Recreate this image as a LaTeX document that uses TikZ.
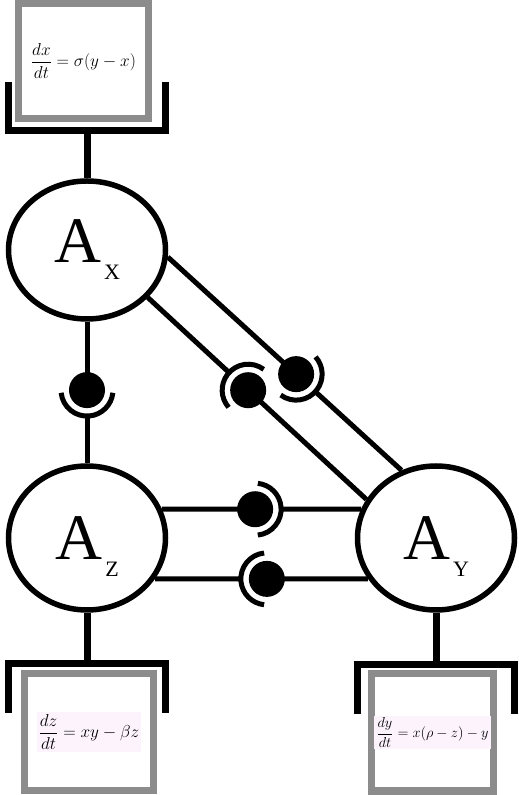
\documentclass[tikz,border=0pt]{standalone}
\usepackage{fontspec}
\newfontfamily\cellfont{Liberation Serif}
\usetikzlibrary{calc,shapes.geometric}
\definecolor{framegray}{RGB}{140,140,140}
\definecolor{eqbg}{RGB}{252,243,252}
\newcommand{\acell}[1]{A\kern3pt\raisebox{-17pt}{\fontsize{22}{22}\selectfont #1}}
\setlength{\fboxsep}{2pt}

\begin{document}
\begin{tikzpicture}[x=1pt, y=1pt,
  cell/.style={ellipse, draw, line width=5.5pt, fill=white, inner sep=0pt,
               minimum width=157pt, minimum height=144pt,
               text height=61pt, text depth=17pt,
               font=\cellfont\fontsize{65}{65}\selectfont},
  eqbox/.style={rectangle, draw=framegray, line width=7pt, fill=white,
                inner sep=0pt, minimum height=117pt},
  link/.style={line width=5pt},
  cup/.style={line width=7pt}
]
\useasboundingbox (0,0) rectangle (519,795);

%% ── Cells ──────────────────────────────────────────────────────
\node[cell, minimum height=138pt, text height=43pt] (ax) at (87,545) {\acell{X}};
\node[cell] (az) at (87,257) {\acell{Z}};
\node[cell] (ay) at (436,257) {\acell{Y}};

%% ── Equations ──────────────────────────────────────────────────
\node[eqbox, minimum width=130pt, minimum height=115pt,
      font=\fontsize{17.5}{20}\selectfont] (eqx) at (83.5,734)
  {$\displaystyle\frac{dx}{dt}=\sigma(y-x)$};
\node[eqbox, minimum width=129pt, font=\fontsize{18}{21}\selectfont]
  (eqz) at (89,63) {\colorbox{eqbg}{$\displaystyle\frac{dz}{dt}=xy-\beta z$}};
\node[eqbox, minimum width=122pt, font=\fontsize{14.4}{17}\selectfont]
  (eqy) at (432.5,62.5) {\colorbox{eqbg}{$\displaystyle\frac{dy}{dt}=x(\rho-z)-y$}};

%% ── Cups ───────────────────────────────────────────────────────
\draw[cup] (ax.north) -- ++(0,47.5) coordinate (cupx);
\draw[cup] ($(cupx)+(-78.5,48.5)$) -- ++(0,-48.5) -- ++(157,0) -- ++(0,48.5);
\draw[cup] (az.south) -- ++(0,-50.5) coordinate (cupz);
\draw[cup] ($(cupz)+(-78.5,-49.5)$) -- ++(0,49.5) -- ++(157,0) -- ++(0,-49.5);
\draw[cup] (ay.south) -- ++(0,-51.5) coordinate (cupy);
\draw[cup] ($(cupy)+(-78.5,-49.5)$) -- ++(0,49.5) -- ++(157,0) -- ++(0,-49.5);

%% ── Couplings: ball side / socket side / position ──────────────
\foreach \b/\s/\f [count=\i] in {ax.south/az.north/0.483, ax.-5/ay.117/0.549,
    ay.151/ax.-38/0.541, az.21/ay.159/0.468, ay.-149/az.-31/0.475}{
  \coordinate (c\i) at ($(\b)!\f!(\s)$);
  \coordinate (s\i) at ($(c\i)!26pt!(\s)$);
  \draw[link] (\b) -- (c\i);
  \draw[link] (s\i) -- (\s);
  \fill (c\i) circle[radius=18pt];
  \draw[link] let \p1=($(\s)-(c\i)$), \n1={atan2(\y1,\x1)} in
    ($(c\i)+(\n1-84:26pt)$) arc[start angle=\n1-84, end angle=\n1+84, radius=26pt];
}

\end{tikzpicture}
\end{document}
